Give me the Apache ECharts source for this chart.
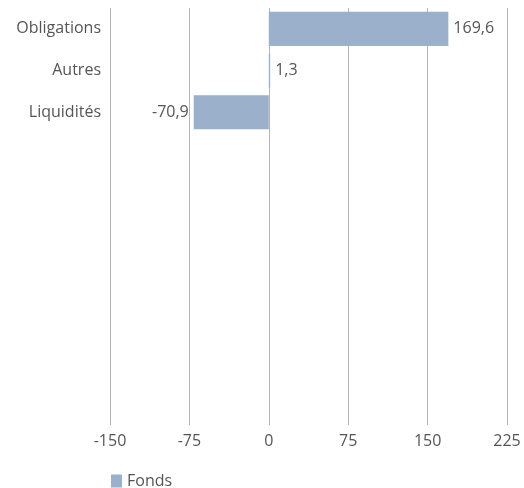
<!DOCTYPE html>
<html>
<head>
    <meta charset="utf-8">
    <title>Fonds</title>
    <script src="https://cdn.jsdelivr.net/npm/echarts@6/dist/echarts.min.js"></script>
    <style>html,body{margin:0;padding:0;background:#fff;}</style>
</head>
<body>
    <div id="main" style="width:524px;height:488px;"></div>
    <script type="text/javascript">
        // categories (blank slots keep the empty space below the bars)
        var categories = ['Obligations', 'Autres', 'Liquidités', '', '', '', '', '', '', ''];
        var fondsValues = [169.6, 1.3, -70.9, null, null, null, null, null, null, null];
        var seriesName = 'Fonds';

        var myChart = echarts.init(document.getElementById('main'));
        var fontFam = '"Open Sans", Lato, sans-serif';

        var option = {
            animation: false,
            textStyle: { fontFamily: fontFam },
            color: ['#9bb0cb'],
            grid: { left: 110, right: 17, top: 8, bottom: 63, containLabel: false },
            legend: {
                data: [seriesName],
                left: 106,
                top: 468,
                icon: 'rect',
                itemWidth: 11,
                itemHeight: 13,
                itemGap: 4,
                textStyle: { color: '#555', fontSize: 16, fontFamily: fontFam }
            },
            xAxis: {
                type: 'value',
                min: -150,
                max: 225,
                interval: 75,
                axisLine: { show: false },
                axisTick: { show: false },
                splitLine: { lineStyle: { color: '#b5b5b5', width: 1 } },
                axisLabel: { color: '#555', fontSize: 16, margin: 8 }
            },
            yAxis: {
                type: 'category',
                inverse: true,
                data: categories,
                axisLine: { show: false },
                axisTick: { show: false },
                axisLabel: { color: '#555', fontSize: 16, margin: 9 }
            },
            series: [{
                name: seriesName,
                type: 'bar',
                barCategoryGap: '18%',
                data: fondsValues.map(function (v) {
                    if (v === null) return null;
                    return {
                        value: v,
                        label: { position: v < 0 ? 'left' : 'right' }
                    };
                }),
                label: {
                    show: true,
                    color: '#555',
                    fontSize: 16,
                    distance: 5,
                    formatter: function (p) { return String(p.value).replace('.', ','); }
                }
            }]
        };
        myChart.setOption(option);
    </script>
</body>
</html>
